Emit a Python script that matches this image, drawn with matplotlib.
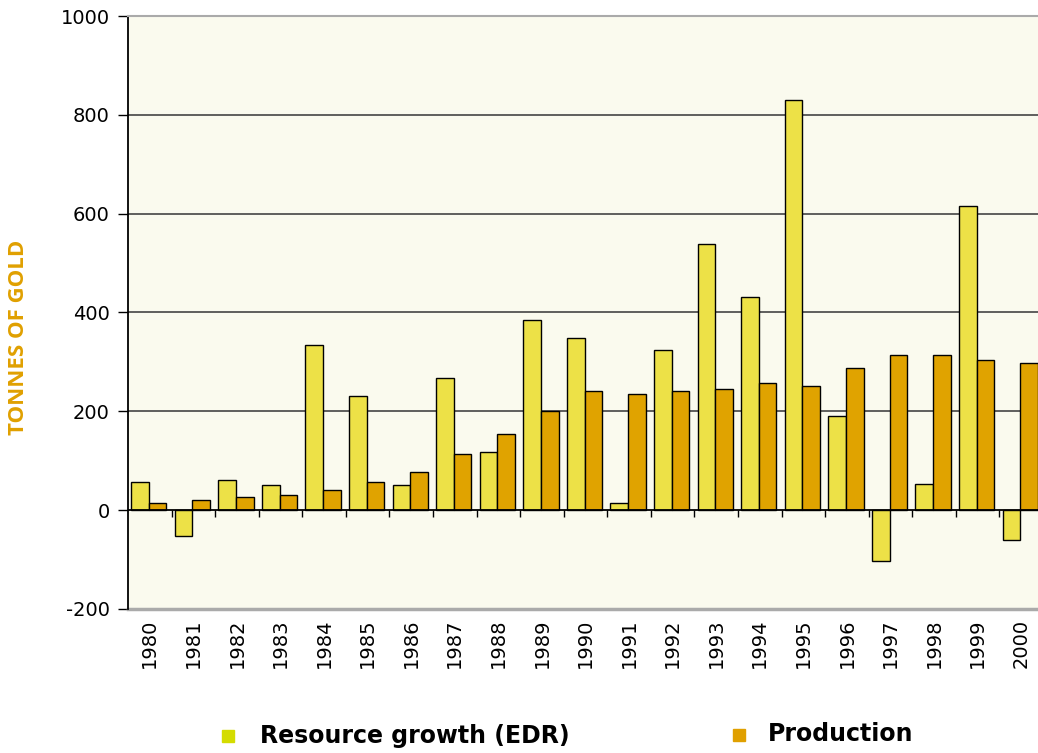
import matplotlib
matplotlib.use("Agg")
import matplotlib.pyplot as plt

years = [str(y) for y in range(1980, 2001)]
resource_growth = [57, -52, 62, 51, 334, 231, 51, 267, 118, 385, 349,
                   15, 324, 538, 431, 831, 190, -102, 52, 616, -61]
production = [15, 20, 26, 30, 41, 57, 77, 113, 154, 200, 242,
              236, 241, 246, 257, 251, 287, 313, 313, 303, 298]
yticks = [-200, 0, 200, 400, 600, 800, 1000]

fig = plt.figure(figsize=(10.38, 7.53), dpi=100)
ax = fig.add_axes([128 / 1038, 144 / 753, 915 / 1038, 593 / 753])
ax.set_facecolor("#fafaee")

x = list(range(len(years)))
w = 0.405
ax.bar([i - 0.225 for i in x], resource_growth, w, color="#ede147",
       edgecolor="black", linewidth=1, zorder=3)
ax.bar([i + 0.18 for i in x], production, w, color="#e0a300",
       edgecolor="black", linewidth=1, zorder=3)

ax.set_xlim(-0.5, len(years) - 0.5)
ax.set_ylim(-200, 1000)
ax.set_yticks(yticks)
ax.set_yticklabels([str(v) for v in yticks], fontsize=14)
for v in yticks[2:-1]:
    ax.axhline(v, color="#444444", linewidth=1.2, zorder=1)
ax.axhline(0, color="black", linewidth=1.3, zorder=4)

# boundary ticks on the zero line
ax.spines["bottom"].set_position(("data", 0))
ax.spines["bottom"].set_visible(False)
ax.set_xticks([i + 0.5 for i in x[:-1]])
ax.tick_params(axis="x", direction="out", length=5, width=1, labelbottom=False,
               color="black")
ax.tick_params(axis="y", direction="out", length=7, width=1, pad=6)

ax.spines["left"].set_color("black")
ax.spines["left"].set_linewidth(1.3)
ax.spines["right"].set_visible(False)
ax.spines["top"].set_color("#aaaaaa")
ax.spines["top"].set_linewidth(1.5)
ax.axhline(-200, color="#aaaaaa", linewidth=2.5, zorder=2, clip_on=False)

for i, yr in enumerate(years):
    ax.text(i, -0.016, yr, transform=ax.get_xaxis_transform(), rotation=90,
            ha="center", va="top", fontsize=14)

fig.text(19 / 1038, 1 - 337 / 753, "TONNES OF GOLD", rotation=90,
         ha="center", va="center", color="#e0a000", fontsize=16,
         family="Open Sans", fontweight="bold")

# legend
fig.patches.append(plt.Rectangle((222 / 1038, 1 - 742 / 753), 12 / 1038, 12 / 753,
                                 transform=fig.transFigure, color="#d4dc00"))
fig.patches.append(plt.Rectangle((733 / 1038, 1 - 741 / 753), 12 / 1038, 12 / 753,
                                 transform=fig.transFigure, color="#e0a000"))
fig.text(260 / 1038, 1 - 736 / 753, "Resource growth (EDR)",
         ha="left", va="center", fontsize=17, fontweight="bold")
fig.text(768 / 1038, 1 - 734 / 753, "Production",
         ha="left", va="center", fontsize=17, fontweight="bold")

fig.savefig("out.png", dpi=100)
